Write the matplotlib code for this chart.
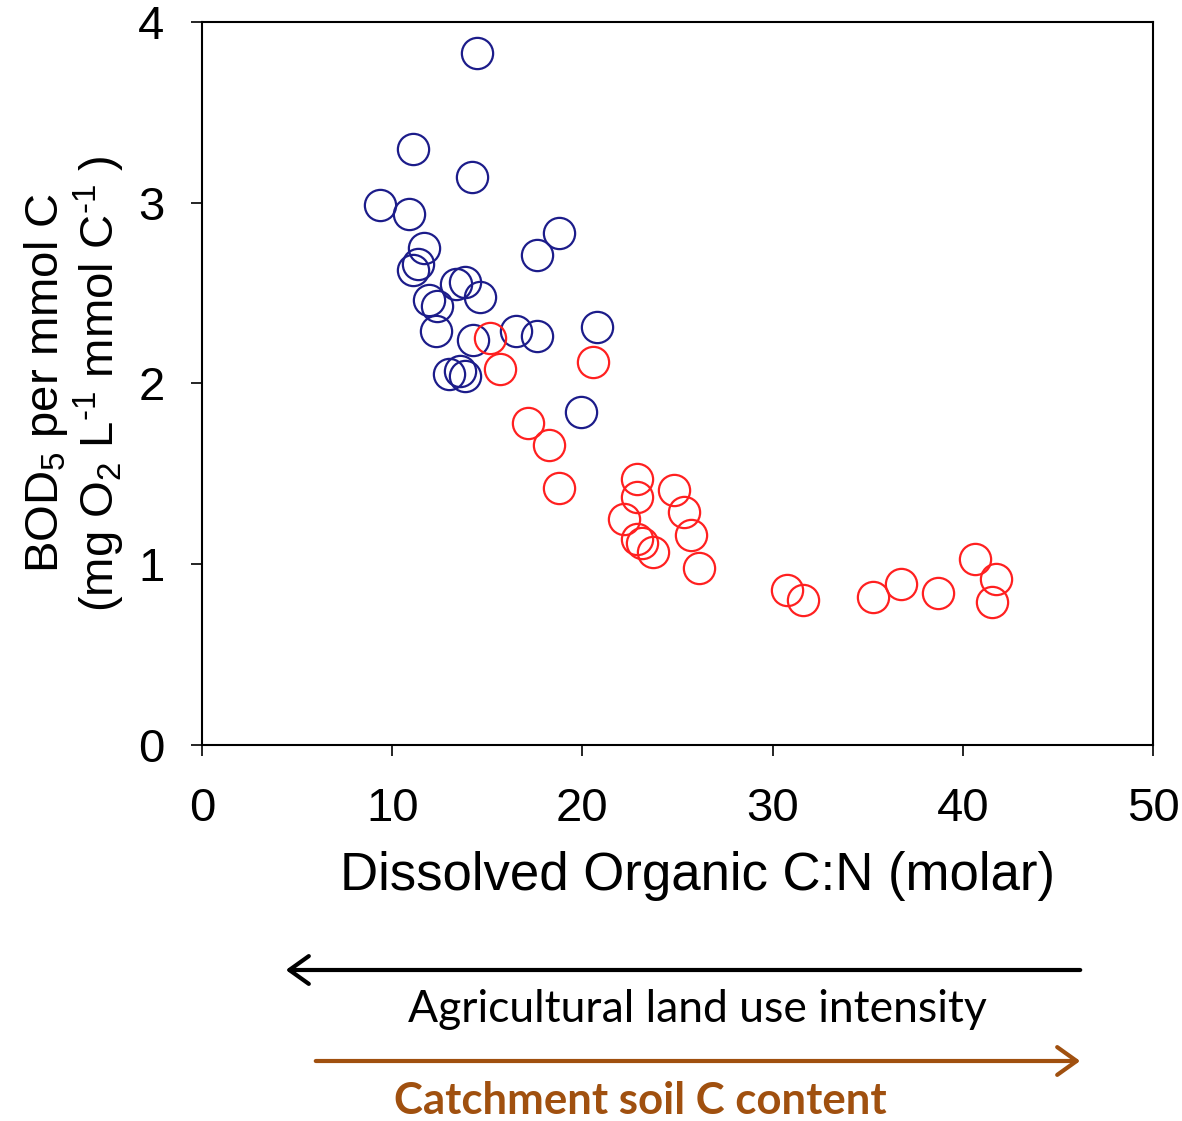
import matplotlib
matplotlib.use("Agg")
import matplotlib.pyplot as plt

plt.rcParams['font.family'] = ['Liberation Sans', 'DejaVu Sans']
plt.rcParams['mathtext.fontset'] = 'custom'
plt.rcParams['mathtext.rm'] = 'Liberation Sans'
plt.rcParams['mathtext.default'] = 'regular'
plt.rcParams['axes.unicode_minus'] = False

# low-soil-C / high-intensity catchments (blue)
blue_cn = [14.46, 11.11, 14.20, 9.34, 10.90, 18.79, 11.66, 17.63, 11.11, 11.37,
           13.35, 13.84, 14.62, 11.93, 12.37, 12.32, 14.26, 16.49, 17.60, 20.78,
           12.99, 13.83, 13.56, 19.93]
blue_bod = [3.83, 3.30, 3.14, 2.99, 2.94, 2.83, 2.75, 2.71, 2.63, 2.66,
            2.55, 2.56, 2.48, 2.46, 2.43, 2.29, 2.24, 2.29, 2.26, 2.31,
            2.05, 2.04, 2.07, 1.84]

# red series
red_cn = [15.14, 15.67, 20.54, 17.16, 18.24, 18.79, 22.89, 22.89, 24.83, 25.36,
          22.20, 22.89, 23.15, 23.73, 25.73, 26.11, 30.76, 31.58, 35.26, 36.75,
          38.70, 40.66, 41.73, 41.54]
red_bod = [2.25, 2.08, 2.12, 1.78, 1.66, 1.42, 1.47, 1.37, 1.41, 1.29,
           1.25, 1.14, 1.12, 1.07, 1.16, 0.98, 0.86, 0.80, 0.82, 0.89,
           0.84, 1.03, 0.92, 0.79]

x_ticks = [0, 10, 20, 30, 40, 50]
y_ticks = [0, 1, 2, 3, 4]

fig = plt.figure(figsize=(11.82, 11.21), dpi=100)
ax = fig.add_axes([0.1709, 0.3354, 0.8046, 0.645])

ax.plot(blue_cn, blue_bod, 'o', ms=22.5, mfc='none', mec='#1c1c8a', mew=1.6)
ax.plot(red_cn, red_bod, 'o', ms=22.5, mfc='none', mec='#ff2020', mew=1.6)

ax.set_xlim(0, 50)
ax.set_ylim(0, 4)
ax.set_xticks(x_ticks)
ax.set_yticks(y_ticks)
ax.tick_params(direction='out', length=8, width=1.2, labelsize=34)
ax.tick_params(axis='x', pad=22)
ax.tick_params(axis='y', pad=19)
for s in ax.spines.values():
    s.set_linewidth(1.5)

fig.text(0.5905, 0.219, "Dissolved Organic C:N (molar)", fontsize=38,
         ha='center', va='center')
ax.set_ylabel("BOD$_5$ per mmol C\n(mg O$_2$ L$^{\u20101}$ mmol C$^{\u20101}$ )",
              fontsize=34, linespacing=1.05, labelpad=8)

# annotation arrows below the axes
cal = ['Lato', 'DejaVu Sans']
head = '->,head_length=1.4,head_width=1.0'
ax.annotate('', xy=(283 / 1182, 1 - 970 / 1121), xytext=(1083 / 1182, 1 - 970 / 1121),
            xycoords='figure fraction', textcoords='figure fraction',
            arrowprops=dict(arrowstyle=head, color='black', lw=3))
fig.text(697 / 1182, 1 - 1010 / 1121, "Agricultural land use intensity",
         family=cal, fontsize=32, ha='center', va='center')
brown = '#a0500f'
ax.annotate('', xy=(1083 / 1182, 1 - 1061 / 1121), xytext=(313 / 1182, 1 - 1061 / 1121),
            xycoords='figure fraction', textcoords='figure fraction',
            arrowprops=dict(arrowstyle=head, color=brown, lw=3))
fig.text(640 / 1182, 1 - 1101 / 1121, "Catchment soil C content",
         family=cal, fontsize=31.5, fontweight='bold', color=brown,
         ha='center', va='center')

fig.savefig("out.png", dpi=100)
